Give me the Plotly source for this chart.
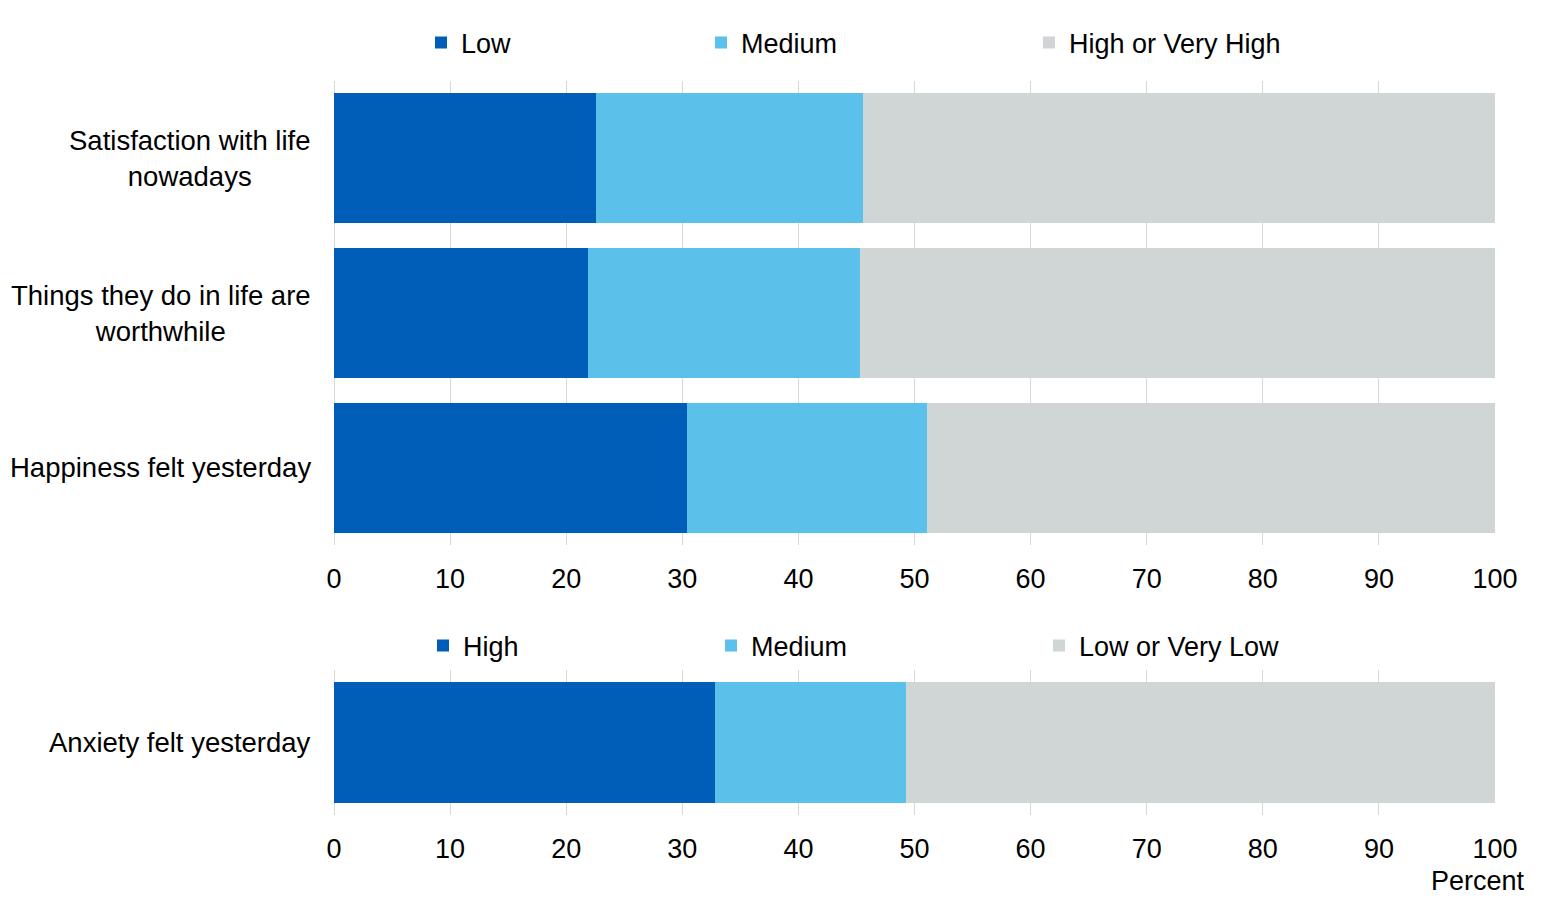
import plotly.graph_objects as go

# wellbeing measures (top chart)
life_items = ["Satisfaction with life nowadays", "Things they do in life are worthwhile",
              "Happiness felt yesterday"]
life_labels = ["Satisfaction with life<br>nowadays", "Things they do in life are<br>worthwhile",
               "Happiness felt yesterday"]
life_low = [22.6, 21.9, 30.4]
life_medium = [23.0, 23.4, 20.7]
life_high = [54.4, 54.7, 48.9]

# anxiety (bottom chart)
anx_items = ["Anxiety felt yesterday"]
anx_high = [32.8]
anx_medium = [16.5]
anx_low = [50.7]

x_ticks = list(range(0, 101, 10))

DARK = "#005EB8"
LIGHT = "#5BC0EA"
GREY = "#D0D5D6"
GRID = "#D9D9D9"
FONT = "Liberation Sans, Arial, sans-serif"
FS = 27

W, H = 1560, 910
OFF = 8  # page body margin of the html page

fig = go.Figure()

top = [("Low", life_low, DARK, "legend", 461),
       ("Medium", life_medium, LIGHT, "legend2", 741),
       ("High or Very High", life_high, GREY, "legend3", 1069)]
bottom = [("High", anx_high, DARK, "legend4", 463),
          ("Medium", anx_medium, LIGHT, "legend5", 751),
          ("Low or Very Low", anx_low, GREY, "legend6", 1079)]

legends = {}
for name, vals, col, lg, tx in top:
    fig.add_trace(go.Bar(y=life_items, x=vals, name=name, orientation="h",
                         marker=dict(color=col, line=dict(width=0)),
                         xaxis="x", yaxis="y", legend=lg))
    legends[lg] = (tx, 43)
for name, vals, col, lg, tx in bottom:
    fig.add_trace(go.Bar(y=anx_items, x=vals, name=name, orientation="h",
                         marker=dict(color=col, line=dict(width=0)),
                         xaxis="x2", yaxis="y2", legend=lg))
    legends[lg] = (tx, 646)

layout_legends = {}
for lg, (tx, ty) in legends.items():
    layout_legends[lg] = dict(
        x=(tx - 40 - OFF) / W, xref="container", xanchor="left",
        y=1 - (ty - OFF) / H, yref="container", yanchor="middle",
        orientation="h", font=dict(family=FONT, size=FS, color="#000000"),
        bgcolor="rgba(0,0,0,0)", itemclick=False, itemdoubleclick=False,
        tracegroupgap=0,
    )

axis_x = dict(range=[0, 100], tickvals=x_ticks, showgrid=True, gridcolor=GRID,
              gridwidth=1, zeroline=True, zerolinecolor=GRID, zerolinewidth=1,
              showline=False, ticks="", ticklabelstandoff=15, fixedrange=True,
              tickfont=dict(family=FONT, size=FS, color="#000000"))

fig.update_layout(
    width=W, height=H,
    margin=dict(l=334 - OFF, r=65 + OFF, t=0, b=0, autoexpand=False),
    paper_bgcolor="white", plot_bgcolor="white",
    barmode="stack", bargap=0.16,
    font=dict(family=FONT, size=FS, color="#000000"),
    showlegend=True,
    xaxis=dict(axis_x, anchor="y"),
    xaxis2=dict(axis_x, anchor="y2"),
    yaxis=dict(domain=[1 - (545 - OFF) / H, 1 - (81 - OFF) / H], categoryorder="array",
               categoryarray=life_items, autorange="reversed",
               showticklabels=False, showgrid=False, ticks="", anchor="x"),
    yaxis2=dict(domain=[1 - (815 - OFF) / H, 1 - (670 - OFF) / H], showticklabels=False,
                showgrid=False, ticks="", anchor="x2"),
    **layout_legends,
)

annotations = []
for item, label in zip(life_items, life_labels):
    annotations.append(dict(x=0, xref="paper", y=item, yref="y", text=label,
                            xanchor="right", yanchor="middle", align="center",
                            xshift=-21, showarrow=False,
                            font=dict(family=FONT, size=27.5, color="#000000")))
for item in anx_items:
    annotations.append(dict(x=0, xref="paper", y=item, yref="y2", text=item,
                            xanchor="right", yanchor="middle", align="center",
                            xshift=-21, showarrow=False,
                            font=dict(family=FONT, size=27.5, color="#000000")))
annotations.append(dict(x=1, xref="paper", y=1 - (881 - OFF) / H, yref="paper", text="Percent",
                        xanchor="right", yanchor="middle", xshift=32, showarrow=False,
                        font=dict(family=FONT, size=FS, color="#000000")))
fig.update_layout(annotations=annotations)

fig.write_html("out.html")
